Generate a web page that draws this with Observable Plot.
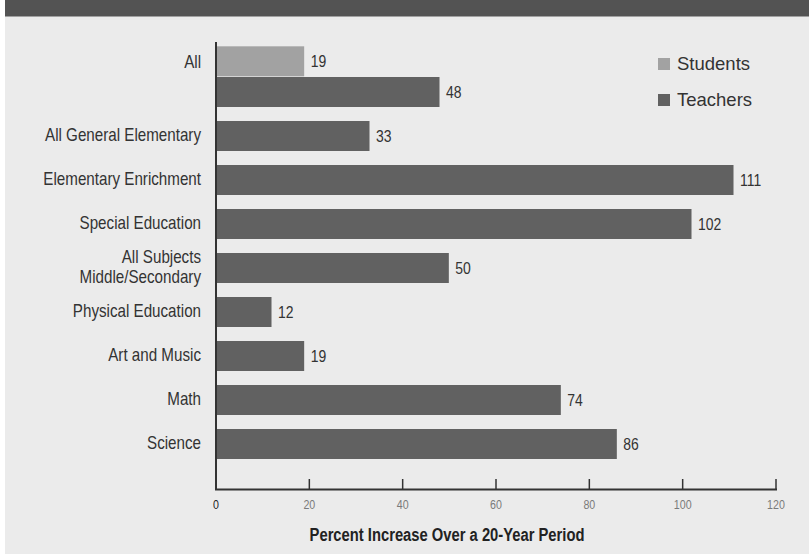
<!DOCTYPE html>
<html>
<head>
<meta charset="utf-8">
<script src="https://cdn.jsdelivr.net/npm/d3@7"></script>
<script src="https://cdn.jsdelivr.net/npm/@observablehq/plot@0.6"></script>
<style>
  html, body { margin: 0; padding: 0; background: #ffffff; }
  #page { position: relative; width: 809px; height: 554px; overflow: hidden; }
  #panel { position: absolute; left: 5px; top: 0; width: 804px; height: 554px; background: #ebebeb; }
  #band { position: absolute; left: 5px; top: 0; width: 804px; height: 16px; background: #535353; border-bottom: 1px solid #a0a0a0; }
  #chart { position: absolute; left: 0; top: 0; }
  .legend { position: absolute; left: 658px; font-family: "Liberation Sans", Arial, sans-serif; font-size: 18.5px; color: #333; display: flex; align-items: center; line-height: 1; }
  .legend span.sw { display: inline-block; width: 12px; height: 12px; margin-right: 7px; }
</style>
</head>
<body>
<div id="page">
  <div id="panel"></div>
  <div id="band"></div>
  <div id="chart"></div>
  <div class="legend" style="top:55px"><span class="sw" style="background:#a2a2a2"></span>Students</div>
  <div class="legend" style="top:91px"><span class="sw" style="background:#616161"></span>Teachers</div>
</div>
<script>
const categories = [
  "All",
  "All General Elementary",
  "Elementary Enrichment",
  "Special Education",
  "All Subjects\nMiddle/Secondary",
  "Physical Education",
  "Art and Music",
  "Math",
  "Science"
];
const teacherValues = [48, 33, 111, 102, 50, 12, 19, 74, 86];
const studentCategories = ["All"];
const studentValues = [19];
const xTicks = [0, 20, 40, 60, 80, 100, 120];
const axisTitle = "Percent Increase Over a 20-Year Period";

const teachers = categories.map((c, i) => ({category: c, value: teacherValues[i]}));
const students = studentCategories.map((c, i) => ({category: c, value: studentValues[i]}));

const yRange = [59.2, 476.5];
const pad = 0.315;
const step = (yRange[1] - yRange[0]) / (categories.length - pad + 2 * pad);
const bw = step * (1 - pad);

const font = "'Liberation Sans', Arial, sans-serif";

const chart = Plot.plot({
  width: 809,
  height: 554,
  marginLeft: 215.5,
  marginRight: 33.5,
  marginTop: 42,
  marginBottom: 65,
  style: {background: "transparent", fontFamily: font, color: "#333"},
  x: {domain: [0, 120]},
  y: {domain: categories, range: yRange, padding: pad},
  marks: [
    Plot.barX(teachers, {y: "category", x: "value", fill: "#616161"}),
    Plot.barX(students, {y: "category", x: "value", fill: "#a2a2a2", dy: -bw}),
    Plot.text(teachers, {y: "category", x: "value", text: d => String(d.value), textAnchor: "start", dx: 6, fontSize: 17, fill: "#333"}),
    Plot.text(students, {y: "category", x: "value", text: d => String(d.value), textAnchor: "start", dx: 6, dy: -bw, fontSize: 17, fill: "#333"}),
    Plot.axisY({ticks: categories.filter(c => c !== "All"), tickSize: 0, tickPadding: 15, fontSize: 18.5, fill: "#333", label: null, lineHeight: 1.08, dy: -2}),
    Plot.axisY({ticks: ["All"], tickSize: 0, tickPadding: 15, fontSize: 18.5, fill: "#333", label: null, dy: -bw}),
    Plot.axisX({ticks: xTicks, tickSize: 10, dy: -10, tickFormat: () => "", label: null, stroke: "#333", strokeWidth: 1.5}),
    Plot.axisX({ticks: xTicks, tickSize: 0, tickPadding: 10, fontSize: 13, label: null, fill: d => d === 0 ? "#222" : "#7a7a7a"}),
    Plot.ruleX([0], {stroke: "#333", strokeWidth: 2}),
    Plot.frame({anchor: "bottom", stroke: "#333", strokeWidth: 2}),
    Plot.text([axisTitle], {frameAnchor: "bottom", dy: 51, dx: -49, fontWeight: "bold", fontSize: 18, fill: "#222"})
  ]
});
document.getElementById("chart").appendChild(chart);

// condense the chart's texts (narrow sans look of the reference)
chart.querySelectorAll("text").forEach(t => {
  const tspans = t.querySelectorAll("tspan");
  const targets = tspans.length ? Array.from(tspans) : [t];
  targets.forEach(el => {
    const L = el.getComputedTextLength();
    if (L > 0) {
      el.setAttribute("textLength", (L * 0.82).toFixed(2));
      el.setAttribute("lengthAdjust", "spacingAndGlyphs");
    }
  });
});
</script>
</body>
</html>
